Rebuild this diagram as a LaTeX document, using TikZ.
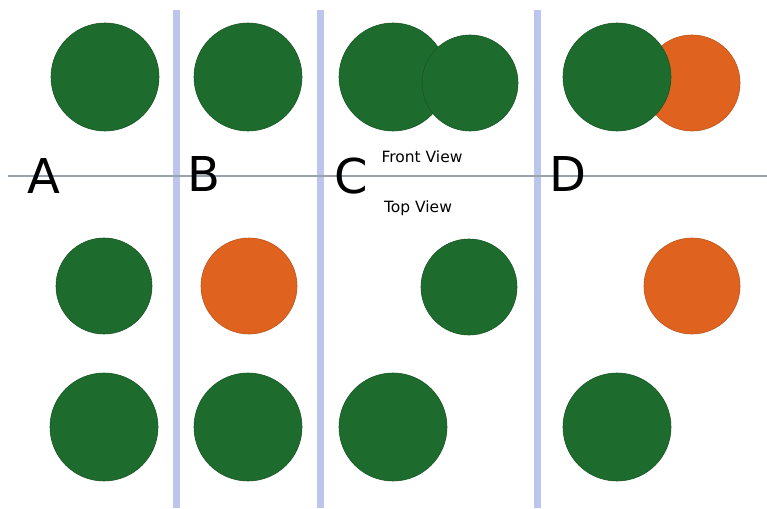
\documentclass[tikz,border=0pt]{standalone}
\usepackage{fontspec}
\setmainfont{DejaVu Sans}
\definecolor{sepblue}{HTML}{BCC5EE}
\definecolor{axisgray}{HTML}{9AA3AC}
\definecolor{ballgreen}{HTML}{1E6B2E}
\definecolor{ballorange}{HTML}{E0621F}
\begin{document}
\begin{tikzpicture}[x=1pt,y=-1pt,
  sep/.style={draw=sepblue,line width=7pt},
  axis/.style={draw=axisgray,line width=1.5pt},
  gball/.style={circle,fill=ballgreen,draw=ballgreen!80!black,line width=0.6pt,inner sep=0pt,minimum size=#1},
  oball/.style={circle,fill=ballorange,draw=ballorange!85!black,line width=0.6pt,inner sep=0pt,minimum size=#1},
  biglabel/.style={font=\fontsize{48}{48}\selectfont,inner sep=0pt},
  viewlabel/.style={font=\fontsize{15.5}{16}\selectfont,inner sep=0pt}]
\useasboundingbox (0,0) rectangle (767,508);
\fill[white] (0,0) rectangle (767,508);
% separators
\coordinate (s1t) at (176,10); \coordinate (s1b) at (176,508);
\coordinate (s2t) at (320,10); \coordinate (s2b) at (320,508);
\coordinate (s3t) at (537,10); \coordinate (s3b) at (537,508);
\draw[sep] (s1t) -- (s1b);
\draw[sep] (s2t) -- (s2b);
\draw[sep] (s3t) -- (s3b);
\coordinate (hl) at (8,176); \coordinate (hr) at (767,176);
\draw[axis] (hl) -- (hr);
% row 1 front view
\node[gball=108pt] (a1) at (105,77) {};
\node[gball=108pt] (b1) at (248,77) {};
\node[gball=108pt] (c1) at (393,77) {};
\node[gball=96pt] (c1s) at (470,83) {};
\node[oball=96pt] (d1s) at (692,83) {};
\node[gball=108pt] (d1) at (617,77) {};
% row 2
\node[gball=96pt] (a2) at (104,286) {};
\node[oball=96pt] (b2) at (249,286) {};
\node[gball=96pt] (c2) at (469,287) {};
\node[oball=96pt] (d2) at (692,286) {};
% row 3
\node[gball=108pt] (a3) at (104,427) {};
\node[gball=108pt] (b3) at (248,427) {};
\node[gball=108pt] (c3) at (393,427) {};
\node[gball=108pt] (d3) at (617,427) {};
% labels
\node[biglabel,anchor=base] (la) at (44,193) {A};
\node[biglabel,anchor=base] (lb) at (204,191) {B};
\node[biglabel,anchor=base] (lc) at (351,193) {C};
\node[biglabel,anchor=base] (ld) at (568,191) {D};
\node[viewlabel,anchor=base] (fv) at (422,162) {Front View};
\node[viewlabel,anchor=base] (tv) at (418,212) {Top View};
\end{tikzpicture}
\end{document}
